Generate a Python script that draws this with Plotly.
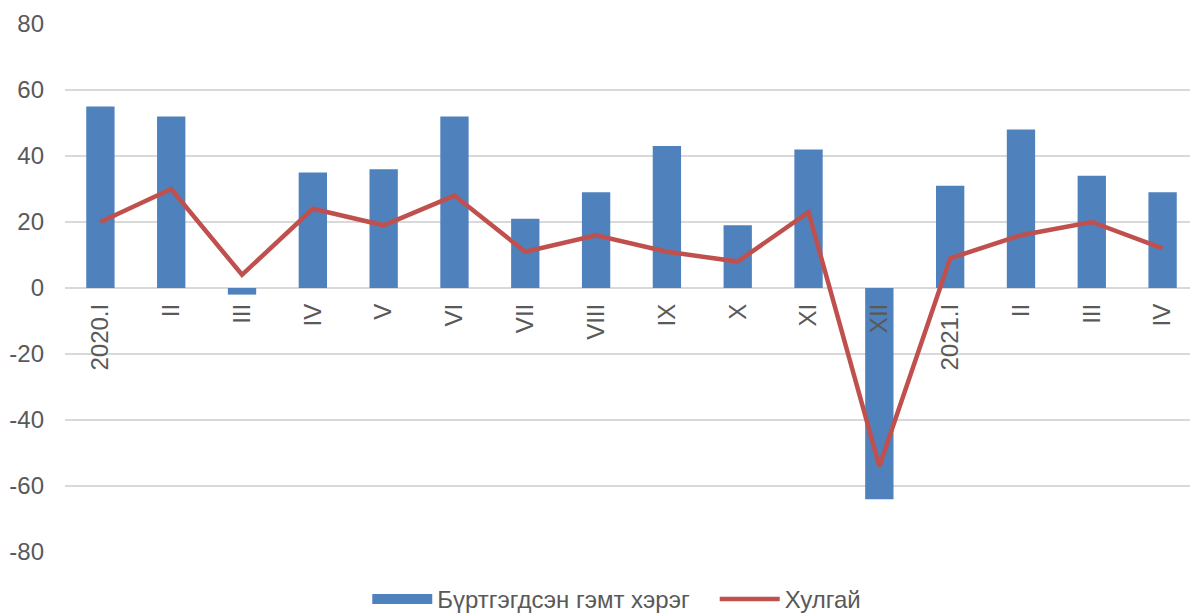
import plotly.graph_objects as go

categories = ["2020.I", "II", "III", "IV", "V", "VI", "VII", "VIII", "IX", "X", "XI", "XII",
              "2021.I", "II", "III", "IV"]
crimes = [55, 52, -2, 35, 36, 52, 21, 29, 43, 19, 42, -64, 31, 48, 34, 29]
theft = [20, 30, 4, 24, 19, 28, 11, 16, 11, 8, 23, -54, 9, 16, 20, 12]
y_ticks = [-80, -60, -40, -20, 0, 20, 40, 60, 80]
y_tick_labels = ["-80", "-60", "-40", "-20", "0", "20", "40", "60", "80"]

font_family = "Liberation Sans, Arial, sans-serif"
txt_color = "#595959"
bar_color = "#4F81BD"
line_color = "#C0504D"

xpos = list(range(len(categories)))

fig = go.Figure()
fig.add_trace(go.Bar(
    x=xpos, y=crimes, name="Бүртгэгдсэн гэмт хэрэг", showlegend=False,
    marker=dict(color=bar_color, line=dict(width=0)),
))
# legend entry for bars (wide rectangle like the original)
fig.add_trace(go.Scatter(
    x=[None], y=[None], name="Бүртгэгдсэн гэмт хэрэг\u00a0\u00a0\u00a0", mode="lines",
    line=dict(color=bar_color, width=13),
))
fig.add_trace(go.Scatter(
    x=xpos, y=theft, name="Хулгай", mode="lines",
    line=dict(color=line_color, width=4.5),
))

# page body has an 8px margin, so the figure is sized/offset to compensate
fig.update_layout(
    width=1190, height=607,
    margin=dict(l=57, r=0, t=16, b=63, autoexpand=False),
    paper_bgcolor="white", plot_bgcolor="white",
    bargap=0.6,
    font=dict(family=font_family, color=txt_color, size=24),
    showlegend=True,
    legend=dict(orientation="h", x=0.487, xanchor="center", y=-0.09, yanchor="middle",
                font=dict(size=24, color=txt_color), itemwidth=60, tracegroupgap=0,
                bgcolor="rgba(0,0,0,0)"),
    xaxis=dict(
        range=[-0.5, len(categories) - 0.5],
        tickvals=xpos, ticktext=categories,
        anchor="free", position=0.5, automargin=False,
        tickangle=-90, showline=False, showgrid=False, ticks="",
        ticklabelstandoff=10,
        tickfont=dict(size=24, color=txt_color),
    ),
    yaxis=dict(
        range=[-80, 80], tickvals=y_ticks, ticktext=y_tick_labels,
        showgrid=True, gridcolor="#D9D9D9", automargin=False,
        gridwidth=1.5, zeroline=True, zerolinecolor="#D9D9D9", zerolinewidth=1.5,
        showline=False, ticks="", ticklabelstandoff=20,
        tickfont=dict(size=24, color=txt_color),
    ),
)

fig.write_html("out.html")
